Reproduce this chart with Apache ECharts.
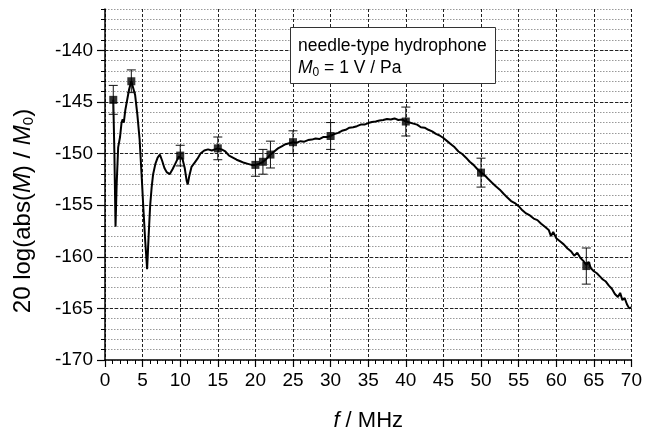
<!DOCTYPE html>
<html>
<head>
<meta charset="utf-8">
<script src="https://cdn.jsdelivr.net/npm/echarts@6/dist/echarts.min.js"></script>
<style>
html,body{margin:0;padding:0;background:#fff;}
#chart{width:645px;height:437px;}
</style>
</head>
<body>
<div id="chart"></div>
<script>
// ---- data ----
var curveF = [1.1,1.25,1.4,1.55,1.75,2.0,2.2,2.35,2.5,2.7,2.9,3.2,3.5,3.75,4.0,4.3,4.6,4.9,5.1,5.35,5.6,5.8,6.0,6.2,6.4,6.7,7.0,7.3,7.6,7.9,8.2,8.6,9.0,9.4,9.8,10.0,10.3,10.6,10.85,11.0,11.2,11.5,11.9,12.3,12.7,13.2,13.7,14.2,14.6,15.0,15.5,16.0,16.5,17.0,17.5,18.0,18.5,19.0,19.5,20.0,20.5,21.0,21.5,22.0,22.5,23.0,23.5,24.0,24.5,
25.0,25.5,26.0,26.5,27.0,27.5,28.0,28.5,29.0,29.5,30.0,30.5,31.0,31.5,32.0,32.5,33.0,33.5,34.0,34.5,35.0,35.5,36.0,36.5,37.0,37.5,38.0,38.5,39.0,39.5,40.0,40.5,41.0,41.5,42.0,42.5,43.0,43.5,44.0,44.5,45.0,45.5,46.0,46.5,47.0,47.5,48.0,48.5,49.0,49.5,50.0,50.5,51.0,51.5,52.0,52.5,53.0,53.5,54.0,54.5,55.0,55.5,56.0,56.5,57.0,57.5,58.0,58.5,59.0,59.3,59.6,60.0,60.5,61.0,61.5,62.0,62.4,62.8,63.2,63.6,64.0,64.3,64.6,65.0,65.4,65.8,66.2,66.6,67.0,67.4,67.8,68.2,68.5,68.8,69.1,69.4,69.7,70.0];
var curveDb = [-144.8,-150.0,-157.1,-153.0,-149.4,-148.4,-147.0,-146.7,-147.0,-145.8,-145.0,-143.8,-143.0,-143.1,-144.3,-146.2,-148.6,-152.5,-155.3,-158.5,-161.2,-158.0,-155.1,-153.3,-152.0,-151.0,-150.4,-150.1,-150.7,-151.4,-151.8,-152.0,-151.5,-150.9,-150.3,-150.2,-150.5,-151.4,-152.6,-153.0,-152.2,-151.3,-150.9,-150.5,-150.0,-149.7,-149.6,-149.7,-149.6,-149.5,-149.6,-149.8,-150.2,-150.4,-150.6,-150.75,-150.9,-151.0,-151.1,-151.1,-151.0,-150.8,-150.5,-150.1,-149.8,-149.5,-149.3,-149.1,-149.0,
-148.9,-148.95,-148.8,-148.85,-148.7,-148.65,-148.55,-148.6,-148.4,-148.4,-148.3,-148.1,-148.0,-147.8,-147.7,-147.5,-147.45,-147.35,-147.2,-147.2,-147.05,-146.95,-146.9,-146.8,-146.75,-146.65,-146.7,-146.6,-146.75,-146.7,-146.9,-147.0,-147.1,-147.2,-147.45,-147.5,-147.7,-147.85,-148.1,-148.25,-148.5,-148.8,-149.1,-149.4,-149.8,-150.05,-150.4,-150.8,-151.1,-151.5,-151.85,-152.1,-152.5,-152.85,-153.2,-153.5,-153.9,-154.25,-154.6,-154.8,-155.1,-155.5,-155.8,-156.0,-156.3,-156.45,-156.8,-157.1,-157.4,-158.0,-157.6,-158.2,-158.5,-158.8,-159.2,-159.5,-159.9,-159.6,-160.1,-160.4,-160.8,-160.5,-161.1,-161.4,-161.6,-161.9,-162.2,-162.4,-162.8,-163.1,-163.6,-163.9,-163.5,-164.2,-164.0,-164.6,-165.0,-164.9];

var markerF   = [1.1, 3.5, 10, 15, 20, 21, 22, 25, 30, 40, 50, 64];
var markerDb  = [-144.8, -143.0, -150.2, -149.5, -151.1, -150.8, -150.1, -148.9, -148.3, -146.9, -151.85, -160.9];
var markerErr = [1.4, 1.1, 1.0, 1.1, 1.1, 1.2, 1.3, 1.1, 1.3, 1.4, 1.4, 1.75];

var xTicks = [0,5,10,15,20,25,30,35,40,45,50,55,60,65,70];
var yMajor = [-170,-165,-160,-155,-150,-145,-140];

// ---- build ----
var FONT = '"Liberation Sans", Arial, sans-serif';
var curve = curveF.map(function(f,i){return [f, curveDb[i]];});
var markers = markerF.map(function(f,i){return [f, markerDb[i]];});
var errs = markerF.map(function(f,i){return [f, markerDb[i]-markerErr[i], markerDb[i]+markerErr[i]];});

var chart = echarts.init(document.getElementById('chart'), null, {renderer:'canvas'});
chart.setOption({
  animation:false,
  backgroundColor:'#fff',
  grid:{left:105, right:11, top:9, bottom:71, containLabel:false},
  xAxis:{
    type:'value', min:0, max:70, interval:5,
    axisLine:{lineStyle:{color:'#000', width:1.5}},
    axisTick:{length:7, lineStyle:{color:'#000', width:1.2}},
    minorTick:{show:true, splitNumber:5, length:4, lineStyle:{color:'#000', width:1}},
    axisLabel:{color:'#000', fontSize:19, fontFamily:FONT, margin:11},
    splitLine:{show:true, lineStyle:{color:'#222', type:[3,2], width:1}},
    minorSplitLine:{show:false},
    name:'{i|f} / MHz', nameLocation:'middle', nameGap:50,
    nameTextStyle:{color:'#000', fontSize:22, fontFamily:FONT,
      rich:{i:{fontStyle:'italic', fontSize:22, fontFamily:FONT, color:'#000'}}}
  },
  yAxis:[{
    type:'value', min:-170, max:-136, interval:1,
    axisLine:{show:true, lineStyle:{color:'#000', width:1.5}},
    axisTick:{show:true, length:4, lineStyle:{color:'#000', width:1}},
    axisLabel:{show:false},
    splitLine:{show:true, lineStyle:{color:'#999', type:[1.5,1.5], width:1}}
  },{
    type:'value', min:-170, max:-136, interval:1, position:'left', offset:0,
    axisLine:{show:false},
    axisTick:{show:true, length:8, customValues:yMajor, lineStyle:{color:'#000', width:1.2}},
    axisLabel:{show:true, customValues:yMajor, color:'#000', fontSize:19, fontFamily:FONT, margin:12},
    splitLine:{show:false}
  }],
  series:[{
    type:'line', data:curve, showSymbol:false, symbol:'none', z:5,
    lineStyle:{color:'#000', width:2}, yAxisIndex:0,
    markLine:{silent:true, symbol:['none','none'], label:{show:false},
      lineStyle:{color:'#222', type:[3,2], width:1}, z:1,
      data:yMajor.slice(1).map(function(v){return {yAxis:v};})}
  },{
    type:'custom', data:errs, z:6, yAxisIndex:0,
    renderItem:function(params, api){
      var lo = api.coord([api.value(0), api.value(1)]);
      var hi = api.coord([api.value(0), api.value(2)]);
      var w = 4.5;
      var st = {stroke:'#111', lineWidth:1};
      return {type:'group', children:[
        {type:'line', shape:{x1:lo[0],y1:lo[1],x2:hi[0],y2:hi[1]}, style:st},
        {type:'line', shape:{x1:lo[0]-w,y1:lo[1],x2:lo[0]+w,y2:lo[1]}, style:st},
        {type:'line', shape:{x1:hi[0]-w,y1:hi[1],x2:hi[0]+w,y2:hi[1]}, style:st}
      ]};
    }
  },{
    type:'scatter', data:markers, symbol:'rect', symbolSize:8, z:7, yAxisIndex:0,
    itemStyle:{color:'#000'}
  }],
  graphic:[{
    type:'text', x:23, y:211, rotation:Math.PI/2, z:50,
    style:{
      text:'20 log(abs({i|M}) / {i|M}{s|0})',
      font:'24px ' + FONT, fill:'#000', align:'center', verticalAlign:'middle',
      rich:{
        i:{fontStyle:'italic', fontSize:24, fontFamily:FONT, fill:'#000', lineHeight:26},
        s:{fontSize:15, fontFamily:FONT, fill:'#000', lineHeight:6, verticalAlign:'bottom'}
      }
    }
  },{
    type:'rect', left:290, top:27, shape:{width:205, height:56}, z:100,
    style:{fill:'#fff', stroke:'#333', lineWidth:1}
  },{
    type:'text', left:298, top:35, z:101,
    style:{
      text:'needle-type hydrophone\n{i|M}{s|0} = 1 V / Pa',
      font:'17.5px ' + FONT, fill:'#000', lineHeight:22,
      rich:{
        i:{fontStyle:'italic', fontSize:17.5, fontFamily:FONT, fill:'#000', lineHeight:22},
        s:{fontSize:12, fontFamily:FONT, fill:'#000', lineHeight:6, verticalAlign:'bottom'}
      }
    }
  }]
});
</script>
</body>
</html>
